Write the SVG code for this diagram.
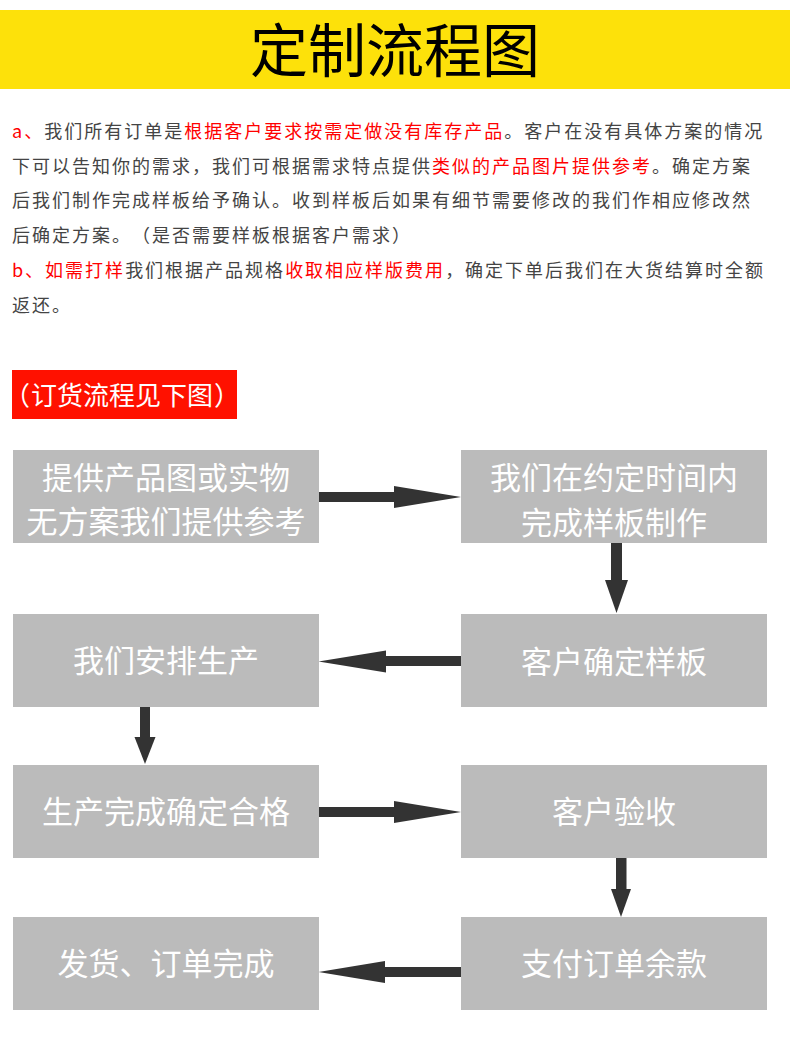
<svg xmlns="http://www.w3.org/2000/svg" width="790" height="1041" viewBox="0 0 790 1041">
<style>
.t{font-family:"Noto Sans CJK SC","Noto Sans",sans-serif;text-spacing-trim:space-all;font-kerning:none;}
.p{font-size:18px;letter-spacing:2px;fill:#444444;}
.r{fill:#ff0000;}
.box{fill:#bbbbbb;}
.bt{font-size:31px;fill:#ffffff;text-anchor:middle;}
.arr{fill:#333333;}
</style>
<rect width="790" height="1041" fill="#ffffff"/>
<g id="header">
<rect x="0" y="10" width="790" height="79" fill="#fde10a"/>
<text class="t" x="395" y="72" font-size="58" text-anchor="middle" fill="#000000">定制流程图</text>
</g>
<g id="intro">
<text class="t p" x="12" y="138"><tspan class="r">a、</tspan>我们所有订单是<tspan class="r">根据客户要求按需定做没有库存产品</tspan>。客户在没有具体方案的情况</text>
<text class="t p" x="12" y="172.5">下可以告知你的需求，我们可根据需求特点提供<tspan class="r">类似的产品图片提供参考</tspan>。确定方案</text>
<text class="t p" x="12" y="207">后我们制作完成样板给予确认。收到样板后如果有细节需要修改的我们作相应修改然</text>
<text class="t p" x="12" y="242">后确定方案。（是否需要样板根据客户需求）</text>
<text class="t p" x="12" y="277"><tspan class="r">b、如需打样</tspan>我们根据产品规格<tspan class="r">收取相应样版费用</tspan>，确定下单后我们在大货结算时全额</text>
<text class="t p" x="12" y="312">返还。</text>
</g>
<g id="label">
<rect x="12" y="370" width="225" height="49" fill="#ff1100"/>
<text class="t" y="404.5" font-size="26" fill="#ffffff"><tspan x="4">（</tspan><tspan x="31">订货流程见下图</tspan><tspan x="214">）</tspan></text>
</g>
<g id="connectors">
<rect class="arr" x="319" y="492" width="76" height="10"/>
<polygon class="arr" points="394,486 461,497 394,508"/>
<rect class="arr" x="611" y="543" width="11" height="38"/>
<polygon class="arr" points="605,580 628,580 616.5,613"/>
<rect class="arr" x="385" y="656" width="76" height="10"/>
<polygon class="arr" points="386,650.5 318.5,661.5 386,672.5"/>
<rect class="arr" x="140" y="707" width="10" height="31"/>
<polygon class="arr" points="134.5,737 155.5,737 145,764"/>
<rect class="arr" x="319" y="807" width="76" height="10"/>
<polygon class="arr" points="394,801 461,812 394,823"/>
<rect class="arr" x="616" y="858" width="10.5" height="32"/>
<polygon class="arr" points="611,889 631,889 621,917"/>
<rect class="arr" x="384" y="967" width="77" height="10"/>
<polygon class="arr" points="385,961 318.5,972 385,983"/>
</g>
<g id="node1">
<rect class="box" x="13" y="450" width="306" height="93"/>
<text class="t bt" x="166" y="489">提供产品图或实物</text>
<text class="t bt" x="166" y="533">无方案我们提供参考</text>
</g>
<g id="node2">
<rect class="box" x="461" y="450" width="306" height="93"/>
<text class="t bt" x="614" y="489">我们在约定时间内</text>
<text class="t bt" x="614" y="534">完成样板制作</text>
</g>
<g id="node3">
<rect class="box" x="461" y="614" width="306" height="93"/>
<text class="t bt" x="614" y="673">客户确定样板</text>
</g>
<g id="node4">
<rect class="box" x="13" y="614" width="306" height="93"/>
<text class="t bt" x="166" y="672">我们安排生产</text>
</g>
<g id="node5">
<rect class="box" x="13" y="765" width="306" height="93"/>
<text class="t bt" x="166" y="823">生产完成确定合格</text>
</g>
<g id="node6">
<rect class="box" x="461" y="765" width="306" height="93"/>
<text class="t bt" x="614" y="823">客户验收</text>
</g>
<g id="node7">
<rect class="box" x="461" y="917" width="306" height="93"/>
<text class="t bt" x="614" y="975">支付订单余款</text>
</g>
<g id="node8">
<rect class="box" x="13" y="917" width="306" height="93"/>
<text class="t bt" x="166" y="975">发货、订单完成</text>
</g>
</svg>
